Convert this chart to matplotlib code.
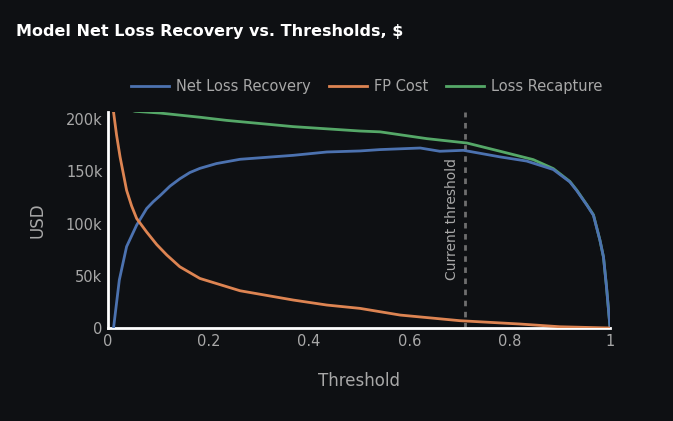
import numpy as np
import matplotlib.pyplot as plt

# values
nlr_t = [0.011, 0.0225, 0.037, 0.057, 0.077, 0.09, 0.104, 0.1235, 0.143, 0.163, 0.183,
         0.216, 0.263, 0.369, 0.436, 0.502, 0.542, 0.622, 0.661, 0.708, 0.781, 0.834,
         0.887, 0.92, 0.934, 0.954, 0.967, 0.98, 0.987, 0.993, 1.0]
nlr_v = [0, 46000, 78000, 98600, 114500, 121000, 127000, 136000, 143000, 149000, 153000,
         157600, 161700, 165500, 168700, 169700, 171000, 172500, 169400, 170300, 164000,
         160000, 151900, 140000, 131500, 117700, 108000, 84000, 68000, 39500, 1000]

fp_t = [0.011, 0.017, 0.024, 0.037, 0.047, 0.057, 0.077, 0.097, 0.117, 0.143, 0.183,
        0.263, 0.369, 0.436, 0.502, 0.582, 0.701, 0.821, 0.9, 1.0]
fp_v = [207000, 185000, 164000, 132000, 117000, 105000, 92000, 80000, 70000, 58700,
        47500, 35700, 26800, 22000, 18800, 12400, 7000, 3800, 1200, 0]

rec_t = [0.011, 0.037, 0.054, 0.104, 0.183, 0.236, 0.369, 0.502, 0.542, 0.635, 0.715,
         0.781, 0.847, 0.887, 0.92, 0.934, 0.954, 0.967, 0.98, 0.987, 0.993, 1.0]
rec_v = [208000, 210000, 207700, 206000, 202000, 199000, 193000, 188800, 188000, 181500,
         177300, 169400, 161400, 152800, 140500, 132000, 118000, 108500, 84000, 68000,
         39500, 1000]

current_threshold = 0.712

bg = '#0e1013'
grey = '#a8a8a8'

fig = plt.figure(figsize=(6.73, 4.21), dpi=100, facecolor=bg)
ax = fig.add_axes([0.1605, 0.2209, 0.7459, 0.513], facecolor=bg)

ax.plot(nlr_t, nlr_v, color='#4c72b0', lw=2.0, label='Net Loss Recovery', zorder=3)
ax.plot(fp_t, fp_v, color='#dd8452', lw=2.0, label='FP Cost', zorder=3)
ax.plot(rec_t, rec_v, color='#55a868', lw=2.0, label='Loss Recapture', zorder=2)

ax.axvline(current_threshold, color='#6e6e6e', lw=2, ls=(0, (2, 2)), zorder=1)
ax.text(current_threshold - 0.012, 104000, 'Current threshold', rotation=90,
        color=grey, fontsize=10, ha='right', va='center')

ax.set_xlim(0, 1)
ax.set_ylim(0, 207000)
ax.set_xticks([0, 0.2, 0.4, 0.6, 0.8, 1])
ax.set_xticklabels(['0', '0.2', '0.4', '0.6', '0.8', '1'])
ax.set_yticks([0, 50000, 100000, 150000, 200000])
ax.set_yticklabels(['0', '50k', '100k', '150k', '200k'])
ax.tick_params(colors=grey, labelsize=10.5, length=0, pad=4)

for s in ['top', 'right']:
    ax.spines[s].set_visible(False)
for s in ['left', 'bottom']:
    ax.spines[s].set_color('white')
    ax.spines[s].set_linewidth(2)

ax.set_xlabel('Threshold', color=grey, fontsize=12, labelpad=17)
ax.set_ylabel('USD', color=grey, fontsize=12, labelpad=14)

fig.text(0.024, 0.924, 'Model Net Loss Recovery vs. Thresholds, $', color='white',
         fontsize=11.5, fontweight='semibold', va='center')

leg = ax.legend(loc='center left', bbox_to_anchor=(0.02, 1.118), ncol=3, frameon=False,
                fontsize=10.5, handlelength=2.6, columnspacing=1.2, handletextpad=0.5)
for t in leg.get_texts():
    t.set_color(grey)

fig.savefig('out.png', dpi=100, facecolor=bg)
